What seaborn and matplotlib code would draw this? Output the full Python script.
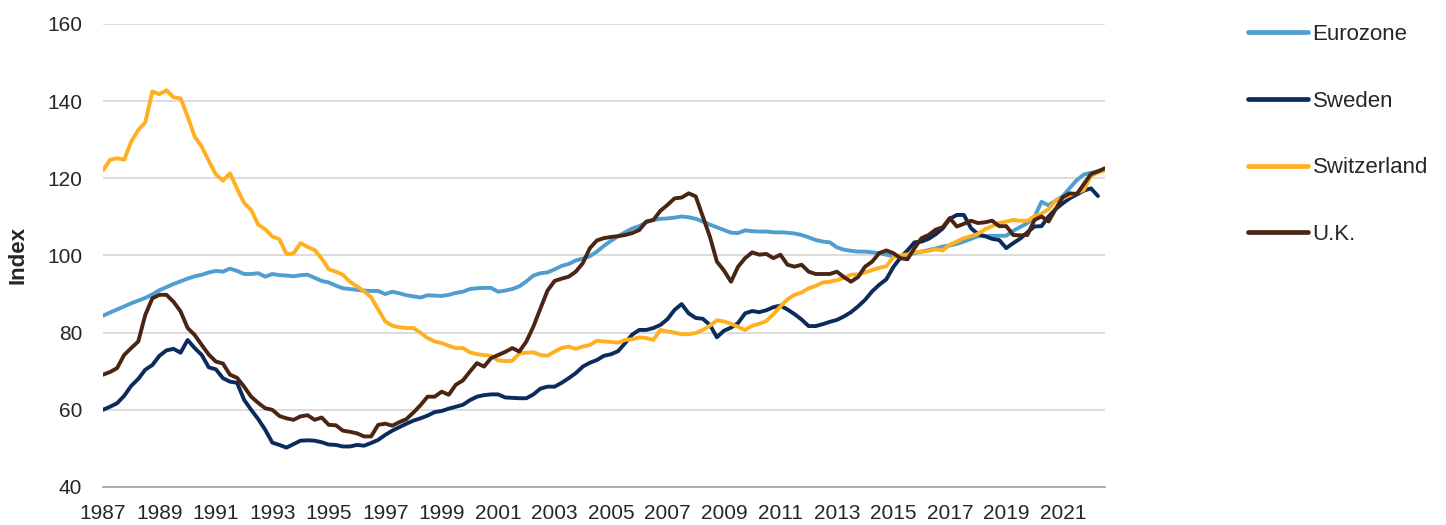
import numpy as np
import pandas as pd
import matplotlib
matplotlib.use("Agg")
import matplotlib.pyplot as plt
import seaborn as sns

# quarterly house price index, 1987Q1 onwards
eurozone = [
    84.4, 85.2, 86.0, 86.8, 87.6, 88.3, 89.0, 89.9, 91.0, 91.8, 92.6, 93.3,
    94.0, 94.6, 95.0, 95.6, 96.0, 95.8, 96.6, 96.0, 95.2, 95.2, 95.4, 94.5,
    95.2, 94.9, 94.8, 94.6, 94.9, 95.0, 94.2, 93.4, 93.0, 92.2, 91.5, 91.3,
    91.1, 90.9, 90.8, 90.8, 90.0, 90.6, 90.2, 89.7, 89.4, 89.1, 89.7, 89.6,
    89.5, 89.8, 90.3, 90.6, 91.3, 91.5, 91.6, 91.6, 90.6, 90.9, 91.3, 92.0,
    93.3, 94.8, 95.4, 95.6, 96.4, 97.3, 97.8, 98.7, 99.2, 99.8, 101.0, 102.5,
    103.8, 105.0, 106.0, 107.0, 107.6, 108.6, 109.2, 109.5, 109.6, 109.8, 110.1, 109.9,
    109.5, 108.8, 108.0, 107.3, 106.6, 105.9, 105.8, 106.5, 106.3, 106.2, 106.2, 106.0,
    106.0, 105.9, 105.7, 105.3, 104.7, 104.0, 103.6, 103.4, 102.1, 101.5, 101.2, 101.0,
    101.0, 100.8, 100.6, 100.2, 99.8, 99.8, 100.2, 100.6, 101.0, 101.4, 101.8, 102.3,
    102.6, 103.0, 103.6, 104.3, 105.0, 105.0, 105.1, 105.1, 105.1, 106.4, 107.4, 108.4,
    110.0, 113.9, 113.0, 114.2, 115.3, 117.5, 119.5, 121.0, 121.4, 121.8, 122.3,
]
sweden = [
    60.0, 60.8, 61.7, 63.6, 66.2, 68.0, 70.4, 71.6, 74.0, 75.4, 75.8, 74.8,
    78.1, 76.0, 74.2, 71.0, 70.5, 68.2, 67.3, 67.0, 62.6, 60.0, 57.6, 54.8,
    51.5, 50.9, 50.2, 51.1, 52.0, 52.1, 52.0, 51.6, 51.0, 50.9, 50.5, 50.5,
    50.9, 50.7, 51.4, 52.2, 53.5, 54.6, 55.5, 56.4, 57.2, 57.8, 58.5, 59.4,
    59.7, 60.3, 60.8, 61.3, 62.5, 63.4, 63.8, 64.0, 64.0, 63.2, 63.1, 63.0,
    63.0, 64.0, 65.5, 66.0, 66.0, 67.0, 68.2, 69.5, 71.2, 72.2, 72.9, 74.0,
    74.4, 75.2, 77.3, 79.5, 80.7, 80.7, 81.2, 82.0, 83.5, 85.9, 87.4, 85.0,
    83.8, 83.6, 82.0, 78.8, 80.5, 81.3, 82.5, 85.0, 85.6, 85.3, 85.8, 86.6,
    87.0, 86.0, 84.8, 83.4, 81.7, 81.7, 82.2, 82.8, 83.3, 84.2, 85.3, 86.8,
    88.5, 90.7, 92.4, 93.8, 97.0, 99.4, 101.3, 103.4, 103.6, 104.3, 105.5, 107.0,
    109.5, 110.5, 110.5, 107.1, 105.5, 105.0, 104.3, 104.0, 101.9, 103.2, 104.4, 106.0,
    107.5, 107.6, 110.1, 112.0, 113.5, 114.8, 115.8, 116.8, 117.4, 115.4,
]
switzerland = [
    122.0, 124.8, 125.2, 124.8, 129.5, 132.5, 134.5, 142.5, 141.8, 142.8, 141.0, 140.7,
    136.0, 130.8, 128.2, 124.5, 121.0, 119.4, 121.3, 117.3, 113.6, 111.8, 108.0, 106.8,
    104.9, 104.2, 100.4, 100.5, 103.2, 102.2, 101.4, 99.2, 96.4, 95.8, 95.0, 93.2,
    92.0, 90.7, 89.2, 86.0, 82.9, 81.8, 81.4, 81.2, 81.2, 80.0, 78.6, 77.7,
    77.3, 76.6, 76.0, 76.0, 74.9, 74.4, 74.2, 74.0, 72.8, 72.6, 72.7, 74.6,
    74.8, 74.9, 74.2, 74.0, 75.1, 76.0, 76.4, 75.8, 76.4, 76.8, 77.9, 77.7,
    77.6, 77.4, 78.1, 78.3, 78.8, 78.6, 78.1, 80.7, 80.3, 80.0, 79.6, 79.6,
    79.9, 80.7, 81.8, 83.2, 82.9, 82.3, 81.5, 80.7, 81.8, 82.3, 83.0, 84.8,
    86.8, 88.6, 89.8, 90.4, 91.5, 92.1, 93.0, 93.2, 93.6, 94.2, 95.0, 95.1,
    95.6, 96.2, 96.8, 97.2, 99.6, 100.0, 100.3, 100.8, 101.0, 101.2, 101.6, 101.3,
    102.8, 103.6, 104.5, 105.0, 105.6, 106.8, 107.6, 108.4, 108.8, 109.2, 109.0, 109.0,
    110.2, 110.8, 112.0, 114.3, 114.8, 115.6, 116.2, 117.0, 120.6, 121.5, 122.1,
]
uk = [
    69.1, 69.8, 70.8, 74.2, 76.0, 77.7, 84.6, 88.9, 89.8, 89.8, 88.0, 85.5,
    81.2, 79.4, 76.8, 74.3, 72.5, 72.0, 69.1, 68.3, 66.0, 63.4, 61.8, 60.4,
    60.0, 58.4, 57.8, 57.4, 58.3, 58.6, 57.4, 58.0, 56.1, 56.0, 54.6, 54.3,
    53.9, 53.1, 53.1, 56.1, 56.4, 55.9, 56.8, 57.6, 59.3, 61.2, 63.4, 63.4,
    64.7, 63.9, 66.5, 67.6, 69.9, 72.1, 71.2, 73.4, 74.2, 75.0, 76.0, 75.1,
    77.7, 81.6, 86.3, 90.9, 93.4, 94.0, 94.5, 95.8, 98.0, 101.9, 103.9, 104.5,
    104.8, 105.0, 105.3, 105.8, 106.6, 108.8, 109.2, 111.6, 113.1, 114.8, 115.0, 116.1,
    115.3, 110.1, 104.9, 98.4, 96.1, 93.2, 97.1, 99.3, 100.8, 100.2, 100.4, 99.3,
    100.2, 97.6, 97.1, 97.6, 95.8, 95.2, 95.2, 95.2, 95.8, 94.4, 93.2, 94.4,
    97.1, 98.4, 100.6, 101.3, 100.6, 99.3, 99.0, 101.9, 104.5, 105.3, 106.7, 107.3,
    109.7, 107.5, 108.2, 109.0, 108.4, 108.6, 109.0, 107.6, 107.6, 105.3, 105.2, 105.3,
    109.2, 110.1, 108.8, 112.0, 115.1, 116.1, 115.9, 118.5, 121.1, 121.8, 122.6,
]

series = {"Eurozone": eurozone, "Sweden": sweden, "Switzerland": switzerland, "U.K.": uk}
colors = {"Eurozone": "#4F9ECF", "Sweden": "#0B2B5C", "Switzerland": "#FFB020", "U.K.": "#4A2514"}

rows = []
for name, vals in series.items():
    q = pd.period_range("1987Q1", periods=len(vals), freq="Q")
    t = q.year + (q.quarter - 1) / 4
    rows.append(pd.DataFrame({"year": t, "value": vals, "country": name}))
df = pd.concat(rows, ignore_index=True)

sns.set_style("white")
plt.rcParams["font.family"] = ["Liberation Sans", "DejaVu Sans"]

fig = plt.figure(figsize=(14.46, 5.25), dpi=100)
ax = fig.add_axes([0.0712, 0.0724, 0.693, 0.882])

sns.lineplot(data=df, x="year", y="value", hue="country", palette=colors,
             linewidth=2.8, ax=ax, legend=True)

ax.set_xlim(1987, 2022.5)
ax.set_ylim(40, 160)
ax.set_yticks(range(40, 161, 20))
ax.set_xticks(range(1987, 2022, 2))
ax.grid(axis="y", color="#D9D9D9", linewidth=1.3)
ax.grid(axis="x", visible=False)
for s in ["top", "right", "left"]:
    ax.spines[s].set_visible(False)
ax.spines["bottom"].set_color("#A6A6A6")
ax.spines["bottom"].set_linewidth(1.3)
ax.tick_params(axis="x", direction="out", length=6, width=1.3, color="#A6A6A6",
               labelsize=15, pad=6)
ax.tick_params(axis="y", length=0, labelsize=15, pad=15)
ax.set_xlabel("")
ax.set_ylabel("Index", fontsize=16, fontweight="bold", labelpad=13)

handles, labels = ax.get_legend_handles_labels()
ax.legend(handles, labels, loc="upper left", bbox_to_anchor=(0.849, 0.992),
          bbox_transform=fig.transFigure, frameon=False, fontsize=16,
          handlelength=2.7, handletextpad=0.22, labelspacing=2.05)
for line in ax.get_legend().get_lines():
    line.set_linewidth(3.4)

fig.savefig("out.png", dpi=100)
